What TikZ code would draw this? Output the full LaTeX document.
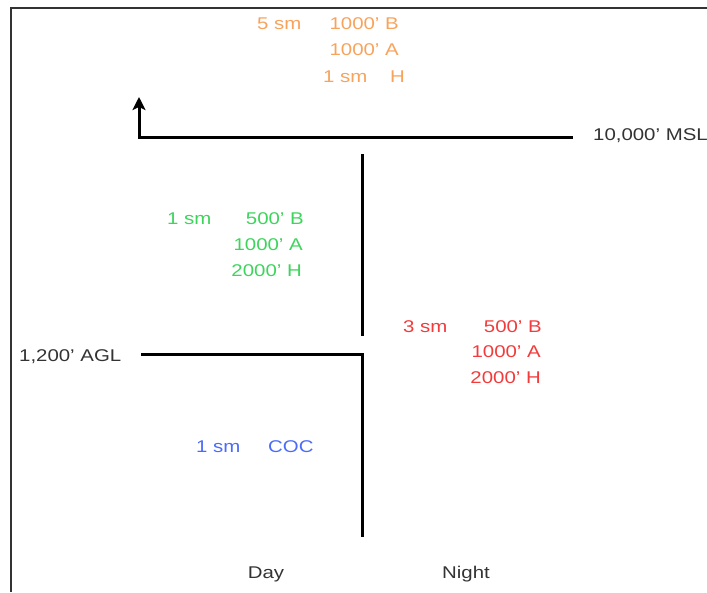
\documentclass[tikz,border=0pt]{standalone}
\usepackage{fontspec}
\setmainfont{Liberation Sans}[FakeStretch=1.2]
\usetikzlibrary{arrows.meta}
\definecolor{vfrday}{HTML}{F7A35C}
\definecolor{daygrn}{HTML}{3DD45C}
\definecolor{nightred}{HTML}{F23B3B}
\definecolor{cocblue}{HTML}{4B6BFA}
\definecolor{ink}{HTML}{333333}
\begin{document}
\begin{tikzpicture}[x=1pt,y=-1pt,
  lbl/.style={inner sep=0pt,font=\fontsize{17}{20}\selectfont},
  lw/.style={lbl,anchor=base west},
  le/.style={lbl,anchor=base east},
  frame/.style={line width=1.6pt,ink},
  bar/.style={line width=3pt,black}]
\useasboundingbox (0,0) rectangle (707,592);

% outer frame (left and top edges)
\draw[frame] (11,592) -- (11,8) -- (707,8);

% 10,000' MSL level with the upward arrow
\coordinate (mslEnd) at (573,137);
\coordinate (mslCorner) at (139,137);
\coordinate (mslTop) at (139,97);
\draw[bar,line join=miter,-{Stealth[length=13pt,width=13pt,inset=3pt]}] (mslEnd) -- (mslCorner) -- (mslTop);
\node[lw,ink] (msl) at (593,140) {10,000' MSL};

% day / night divider above 1,200' AGL
\coordinate (divTop) at (362,154);
\coordinate (divBot) at (362,336);
\draw[bar] (divTop) -- (divBot);

% 1,200' AGL level and the lower divider
\coordinate (aglStart) at (141,354);
\coordinate (aglCorner) at (362,354);
\coordinate (aglBot) at (362,537);
\draw[bar,line join=miter] (aglStart) -- (aglCorner) -- (aglBot);
\node[lw,ink] (agl) at (19,361) {1,200' AGL};

% above 10,000' MSL
\node[lw,vfrday] (o1) at (257,29) {5 sm};
\node[le,vfrday] (o2) at (399,29) {1000' B};
\node[le,vfrday] (o3) at (399,55) {1000' A};
\node[lw,vfrday] (o4) at (323,82) {1 sm};
\node[le,vfrday] (o5) at (405,82) {H};

% day, 1,200' AGL to 10,000' MSL
\node[lw,daygrn] (g1) at (167,224) {1 sm};
\node[le,daygrn] (g2) at (304,224) {500' B};
\node[le,daygrn] (g3) at (303,250) {1000' A};
\node[le,daygrn] (g4) at (302,276) {2000' H};

% night, 1,200' AGL to 10,000' MSL
\node[lw,nightred] (r1) at (403,332) {3 sm};
\node[le,nightred] (r2) at (542,332) {500' B};
\node[le,nightred] (r3) at (541,357) {1000' A};
\node[le,nightred] (r4) at (541,383) {2000' H};

% day, below 1,200' AGL
\node[lw,cocblue] (b1) at (196,452) {1 sm};
\node[lw,cocblue] (b2) at (268,452) {COC};

% column captions
\node[lbl,ink,anchor=base] (day) at (266,578) {Day};
\node[lbl,ink,anchor=base] (night) at (466,578) {Night};
\end{tikzpicture}
\end{document}
